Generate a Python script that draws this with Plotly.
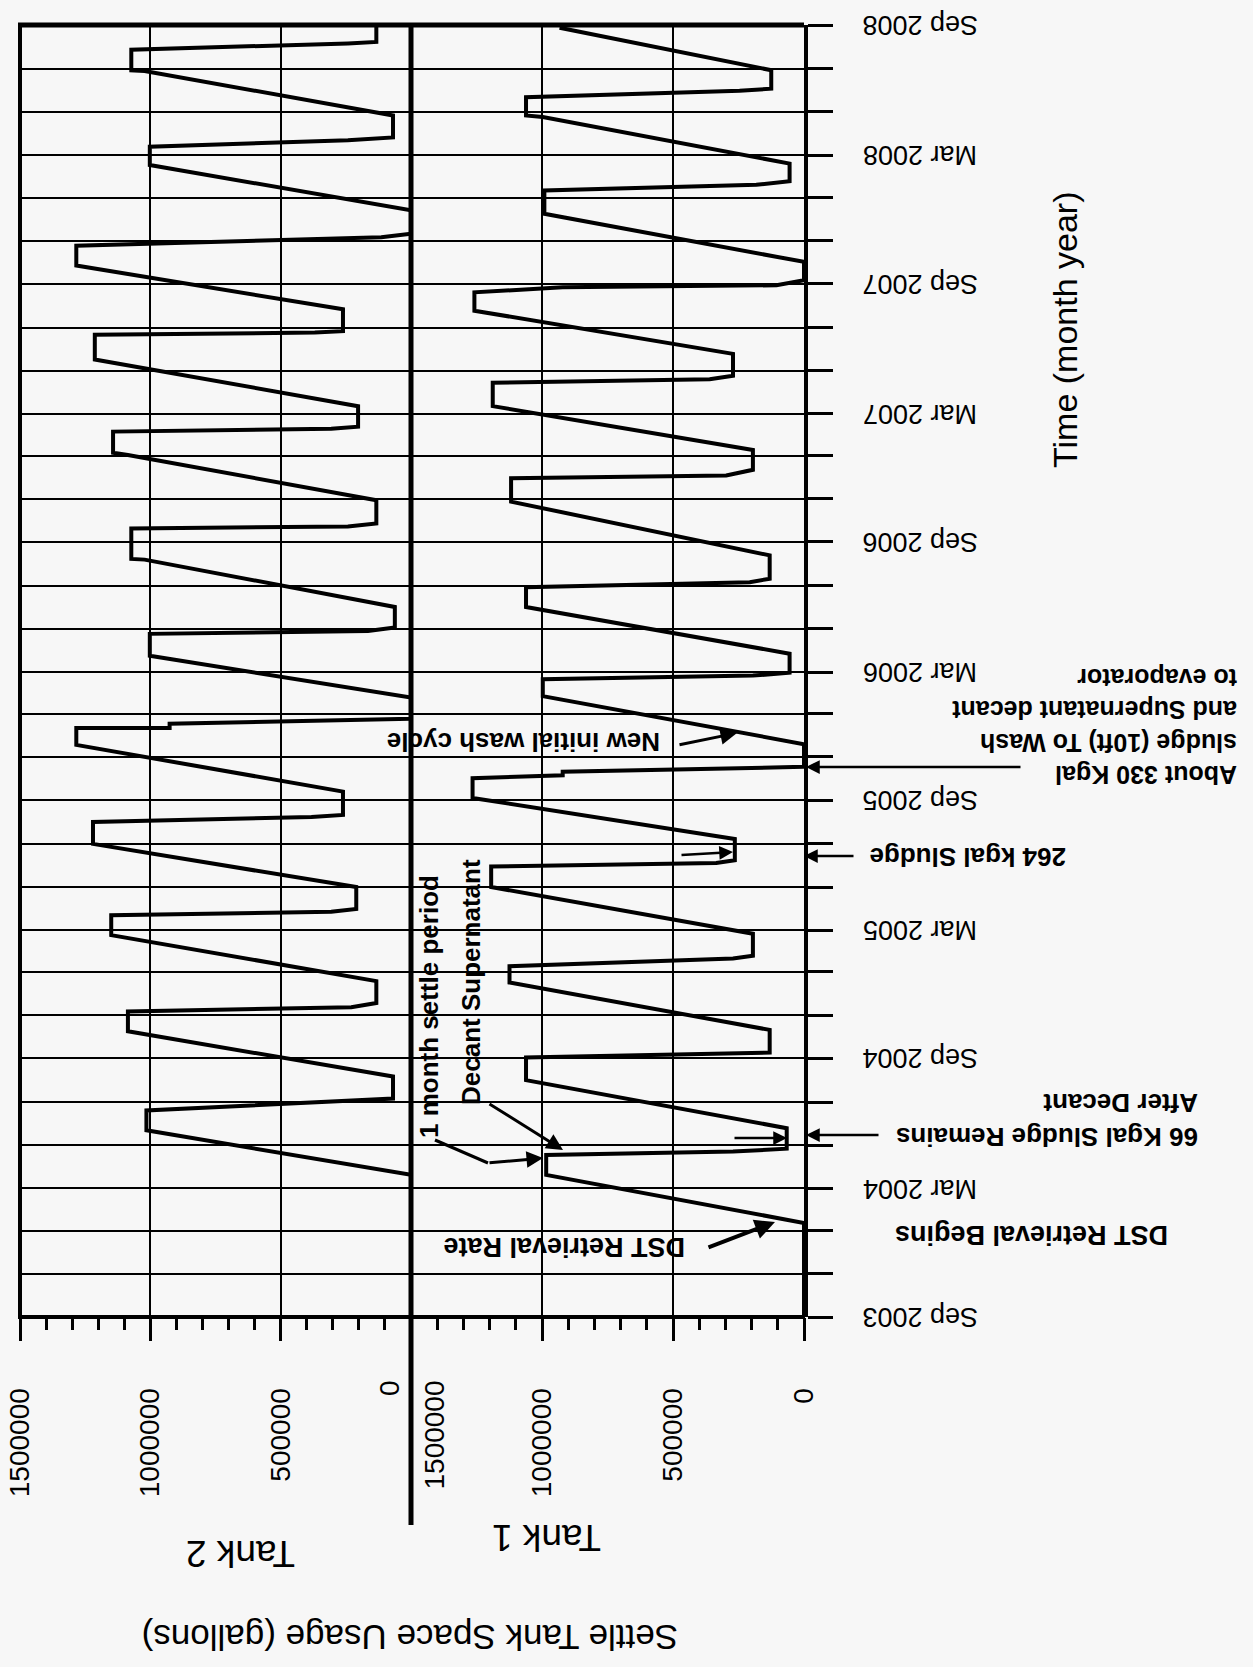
import plotly.graph_objects as go
import pandas as pd

# ---------------- data ----------------
TANK1_DATES = [
    "2003-09-01", "2004-01-12", "2004-03-20", "2004-04-17", "2004-04-22", "2004-04-26",
    "2004-05-25", "2004-08-01", "2004-09-02", "2004-09-09", "2004-10-11", "2004-12-17",
    "2005-01-09", "2005-01-20", "2005-01-24", "2005-02-24", "2005-05-01", "2005-05-30",
    "2005-06-04", "2005-06-08", "2005-07-08", "2005-09-04", "2005-10-02", "2005-10-06",
    "2005-10-11", "2005-10-18", "2005-11-19", "2006-01-26", "2006-02-19", "2006-02-24",
    "2006-02-28", "2006-03-27", "2006-06-01", "2006-06-29", "2006-07-06", "2006-07-11",
    "2006-08-13", "2006-10-28", "2006-11-30", "2006-12-04", "2006-12-12", "2007-01-09",
    "2007-03-12", "2007-04-14", "2007-04-19", "2007-04-24", "2007-05-25", "2007-07-25",
    "2007-08-20", "2007-08-27", "2007-08-30", "2007-09-06", "2007-10-02", "2007-12-09",
    "2008-01-11", "2008-01-19", "2008-01-24", "2008-02-18", "2008-04-24", "2008-04-26",
    "2008-05-22", "2008-05-31", "2008-06-03", "2008-06-29", "2008-08-28",
]
TANK1_GAL = [
    0, 0, 984000, 984000, 271000, 66000,
    66000, 1061000, 1061000, 131000, 131000, 1124000,
    1124000, 271000, 195000, 195000, 1194000, 1194000,
    335000, 264000, 264000, 1265000, 1265000, 921000,
    921000, 0, 0, 997000, 997000, 195000,
    55000, 55000, 1061000, 1061000, 207000, 131000,
    131000, 1118000, 1118000, 297000, 195000, 195000,
    1188000, 1188000, 360000, 271000, 271000, 1258000,
    1258000, 921000, 105000, 0, 0, 991000,
    991000, 182000, 55000, 55000, 997000, 1061000,
    1061000, 246000, 125000, 125000, 933000,
]

TANK2_DATES = [
    "2003-09-01", "2004-03-20", "2004-05-22", "2004-06-19", "2004-07-06", "2004-08-06",
    "2004-10-09", "2004-11-06", "2004-11-12", "2004-11-18", "2004-12-19", "2005-02-22",
    "2005-03-22", "2005-03-27", "2005-03-31", "2005-05-01", "2005-07-01", "2005-08-01",
    "2005-08-08", "2005-08-11", "2005-09-13", "2005-11-18", "2005-12-12", "2005-12-12",
    "2005-12-18", "2005-12-25", "2006-01-24", "2006-03-24", "2006-04-24", "2006-04-28",
    "2006-05-03", "2006-06-01", "2006-08-07", "2006-08-08", "2006-09-20", "2006-09-23",
    "2006-09-27", "2006-10-30", "2007-01-02", "2007-01-05", "2007-02-04", "2007-02-08",
    "2007-02-11", "2007-03-12", "2007-05-17", "2007-06-21", "2007-06-24", "2007-06-26",
    "2007-07-27", "2007-09-27", "2007-10-25", "2007-10-29", "2007-11-06", "2007-11-11",
    "2007-12-14", "2008-02-16", "2008-03-13", "2008-03-22", "2008-03-26", "2008-04-26",
    "2008-06-28", "2008-06-29", "2008-07-28", "2008-08-06", "2008-08-08", "2008-09-01",
]
TANK2_GAL = [
    0, 0, 1015000, 1015000, 69000, 69000,
    1086000, 1086000, 229000, 133000, 133000, 1150000,
    1150000, 306000, 210000, 210000, 1220000, 1220000,
    382000, 261000, 261000, 1284000, 1284000, 926000,
    926000, 0, 0, 1002000, 1002000, 165000,
    62000, 62000, 1022000, 1073000, 1073000, 242000,
    133000, 133000, 1086000, 1143000, 1143000, 306000,
    203000, 203000, 1213000, 1213000, 369000, 261000,
    261000, 1284000, 1284000, 920000, 114000, 0,
    0, 1002000, 1002000, 242000, 69000, 69000,
    1022000, 1073000, 1073000, 242000, 133000, 133000,
]

VALUE_TICKS = [1500000, 1000000, 500000, 0]
VALUE_TICK_LABELS = ["1500000", "1000000", "500000", "0"]
TIME_TICK_LABELS = ["Sep 2003", "Mar 2004", "Sep 2004", "Mar 2005", "Sep 2005", "Mar 2006",
                    "Sep 2006", "Mar 2007", "Sep 2007", "Mar 2008", "Sep 2008"]

# ---------------- geometry helpers (page pixel -> paper) ----------------
W, H = 1253, 1667          # browser window (page body margin is removed below)
L, R, T, B = 20, 804, 25, 1317   # plot area in page pixels
DIV = 411


def px(x):
    return (x - L) / (R - L)


def py(y):
    return (B - y) / (B - T)


split = px(DIV)
FONT = "Liberation Sans, Arial, Helvetica, sans-serif"
BG = "#f7f7f7"
LW = 4

fig = go.Figure()
fig.add_trace(go.Scatter(x=TANK2_GAL, y=TANK2_DATES, xaxis="x", yaxis="y", mode="lines",
                         line=dict(color="black", width=LW), name="Tank 2", showlegend=False))
fig.add_trace(go.Scatter(x=TANK1_GAL, y=TANK1_DATES, xaxis="x2", yaxis="y", mode="lines",
                         line=dict(color="black", width=LW), name="Tank 1", showlegend=False))

val_axis = dict(
    range=[1500000, 0], tickmode="array", tickvals=VALUE_TICKS,
    ticks="outside", ticklen=23, tickwidth=3, tickcolor="black",
    showgrid=True, gridcolor="black", gridwidth=2, showline=False, zeroline=False,
    tickangle=-90, tickfont=dict(family=FONT, size=28, color="black"),
    ticklabelstandoff=36, ticklabeloverflow="allow", automargin=False,
    minor=dict(ticks="outside", ticklen=12, tickwidth=2.5, tickcolor="black",
               tickmode="linear", tick0=0, dtick=100000, showgrid=False),
    anchor="y", fixedrange=True,
)
x1 = dict(val_axis, domain=[0, split],
          ticktext=[VALUE_TICK_LABELS[0], VALUE_TICK_LABELS[1], VALUE_TICK_LABELS[2], ""])
x2 = dict(val_axis, domain=[split, 1],
          ticktext=["", VALUE_TICK_LABELS[1], VALUE_TICK_LABELS[2], VALUE_TICK_LABELS[3]])

tick_dates = pd.date_range("2003-09-01", "2008-09-01", freq="2MS")
yaxis = dict(
    type="date", range=["2003-09-01", "2008-09-01"], anchor="x2", side="right",
    tickmode="array", tickvals=tick_dates, showticklabels=False,
    ticks="outside", ticklen=25, tickwidth=3, tickcolor="black",
    showgrid=True, gridcolor="black", gridwidth=2, automargin=False,
    showline=True, linewidth=3.5, linecolor="black", zeroline=False, fixedrange=True,
)

annotations = []

# time tick labels (upside down, as in the scanned page)
for lab in TIME_TICK_LABELS:
    annotations.append(dict(
        text=lab, xref="paper", x=px(920), yref="y", y=pd.to_datetime(lab).strftime("%Y-%m-%d"),
        textangle=180, showarrow=False, xanchor="center", yanchor="middle",
        font=dict(family=FONT, size=27, color="black")))

# boundary value labels
annotations.append(dict(text=VALUE_TICK_LABELS[3], xref="paper", yref="paper", x=px(389), y=py(1378),
                        textangle=-90, showarrow=False, xanchor="center", yanchor="top",
                        font=dict(family=FONT, size=28, color="black")))
annotations.append(dict(text=VALUE_TICK_LABELS[0], xref="paper", yref="paper", x=px(434), y=py(1378),
                        textangle=-90, showarrow=False, xanchor="center", yanchor="top",
                        font=dict(family=FONT, size=28, color="black")))


def text_ann(text, cx, cy, angle, size, bold=False, align="center"):
    t = "<b>" + text + "</b>" if bold else text
    return dict(text=t, xref="paper", yref="paper", x=px(cx), y=py(cy), textangle=angle,
                showarrow=False, xanchor="center", yanchor="middle", align=align,
                font=dict(family=FONT, size=size, color="black"))


def arrow(head, tail, width=2.5, size=1.1):
    return dict(text="", xref="paper", yref="paper", x=px(head[0]), y=py(head[1]),
                ax=tail[0] - head[0], ay=tail[1] - head[1], axref="pixel", ayref="pixel",
                showarrow=True, arrowhead=2, arrowsize=size, arrowwidth=width,
                arrowcolor="black", standoff=0)


annotations += [
    text_ann("Time (month year)", 1065, 330, -90, 34),
    text_ann("Settle Tank Space Usage (gallons)", 410, 1638, 180, 35),
    text_ann("Tank 2", 240, 1553, 180, 37),
    text_ann("Tank 1", 547, 1538, 180, 37),
    text_ann("DST Retrieval Begins", 1032, 1235, 180, 27, bold=True),
    text_ann("66 Kgal Sludge Remains<br>After Decant", 1047, 1120, 180, 26, bold=True, align="left"),
    text_ann("DST Retrieval Rate", 564, 1247, 180, 27, bold=True),
    text_ann("1 month settle period", 429, 1006, -90, 26, bold=True),
    text_ann("Decant Supernatant", 471, 982, -90, 26, bold=True),
    text_ann("264 kgal Sludge", 968, 857, 180, 26, bold=True),
    text_ann("About 330 Kgal<br>sludge (10ft) To Wash<br>and Supernatant decant<br>to evaporator",
             1095, 726, 180, 25, bold=True, align="left"),
    text_ann("New initial wash cycle", 524, 742, 180, 26, bold=True),
    arrow((806, 1135), (880, 1135)),
    arrow((787, 1138), (733, 1138)),
    arrow((775, 1222), (707, 1248), width=4, size=1.0),
    arrow((543, 1158), (488, 1163), width=3),
    arrow((563, 1150), (488, 1103), width=3),
    arrow((804, 856), (855, 856)),
    arrow((733, 852), (680, 855)),
    arrow((806, 767), (1022, 767)),
    arrow((737, 733), (678, 745), width=3),
]

shapes = [
    dict(type="line", xref="paper", yref="paper", x0=px(L - 2), y0=py(T), x1=px(R), y1=py(T),
         line=dict(color="black", width=5)),
    dict(type="line", xref="paper", yref="paper", x0=px(L), y0=py(T), x1=px(L), y1=py(B),
         line=dict(color="black", width=4)),
    dict(type="line", xref="paper", yref="paper", x0=px(DIV), y0=py(T), x1=px(DIV), y1=py(1525),
         line=dict(color="black", width=5)),
    dict(type="line", xref="paper", yref="paper", x0=px(L - 2), y0=py(B), x1=px(R + 1), y1=py(B),
         line=dict(color="black", width=4)),
    dict(type="line", xref="paper", yref="paper", x0=px(435), y0=py(1140), x1=px(488), y1=py(1163),
         line=dict(color="black", width=3)),
]

fig.update_layout(
    template="none",
    autosize=False,
    width=W, height=H,
    margin=dict(l=L, r=W - R, t=T, b=H - B, pad=0, autoexpand=False),
    paper_bgcolor=BG, plot_bgcolor=BG,
    showlegend=False,
    xaxis=x1, xaxis2=x2, yaxis=yaxis,
    annotations=annotations, shapes=shapes,
    font=dict(family=FONT, color="black"),
)

fig.write_html(
    "out.html",
    config={"displayModeBar": False},
    post_script="document.body.style.margin='0';document.body.style.overflow='hidden';"
                "document.body.style.background='#f7f7f7';",
)
